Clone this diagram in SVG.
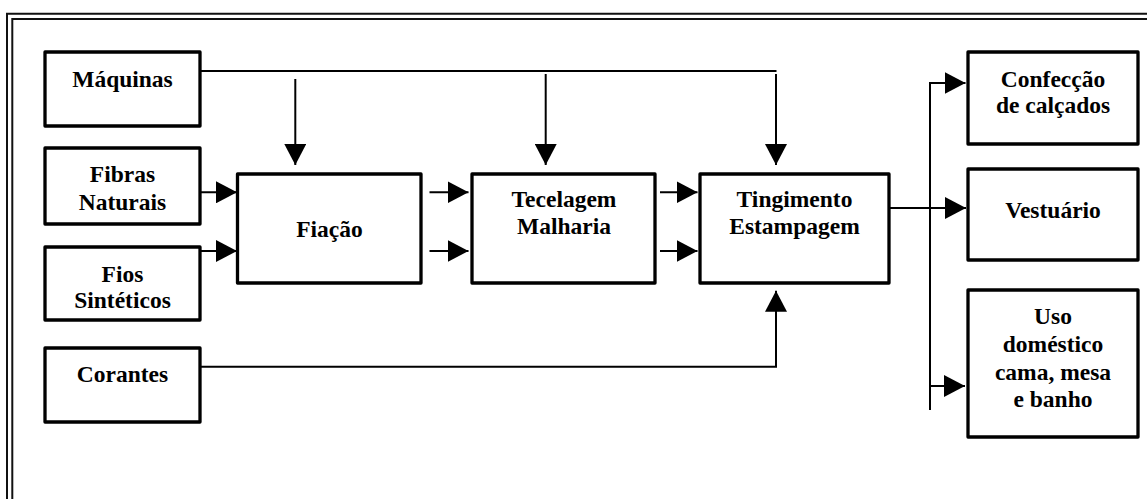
<svg xmlns="http://www.w3.org/2000/svg" width="1147" height="499" viewBox="0 0 1147 499">
  <style>
    .box { fill: #fff; stroke: #000; stroke-width: 3.3; stroke-linejoin: round; }
    .lbl { font-weight: bold; font-size: 23.5px; fill: #000; text-anchor: middle; }
    .wire { fill: none; stroke: #000; stroke-width: 2; }
    .frame { fill: none; stroke: #111; stroke-width: 2; }
  </style>
  <defs>
    <marker id="head" markerUnits="userSpaceOnUse" markerWidth="22" markerHeight="22" refX="21" refY="11" orient="auto">
      <path d="M0,0 L21,11 L0,22 Z" fill="#000"/>
    </marker>
  </defs>

  <rect width="1147" height="499" fill="#fff"/>

  <!-- double page border (top and left) -->
  <g id="border">
    <path class="frame" d="M7,499 V13.7 H1147"/>
    <path class="frame" d="M12.3,499 V19 H1147"/>
  </g>

  <!-- connectors -->
  <g id="connectors">
    <path class="wire" d="M200,71 H776.5"/>
    <path class="wire" d="M295.3,79 V165" marker-end="url(#head)"/>
    <path class="wire" d="M545.7,74 V165" marker-end="url(#head)"/>
    <path class="wire" d="M776,74 V165" marker-end="url(#head)"/>

    <path class="wire" d="M200,192.3 H237" marker-end="url(#head)"/>
    <path class="wire" d="M200,251 H237" marker-end="url(#head)"/>

    <path class="wire" d="M429.5,192.3 H468.5" marker-end="url(#head)"/>
    <path class="wire" d="M429.5,251 H468.5" marker-end="url(#head)"/>

    <path class="wire" d="M660,192.3 H697.5" marker-end="url(#head)"/>
    <path class="wire" d="M660,251 H697.5" marker-end="url(#head)"/>

    <path class="wire" d="M889,208 H966" marker-end="url(#head)"/>
    <path class="wire" d="M930,410 V83"/>
    <path class="wire" d="M929,83 H965.5" marker-end="url(#head)"/>
    <path class="wire" d="M930,386 H965" marker-end="url(#head)"/>

    <path class="wire" d="M200,366.7 H776 V290.7" marker-end="url(#head)"/>
  </g>

  <g id="nodes" font-family="Liberation Serif, Times New Roman, serif">
    <!-- inputs -->
    <g id="maquinas">
      <rect class="box" x="45" y="52" width="155" height="74"/>
      <text class="lbl" x="122.5" y="87.3">Máquinas</text>
    </g>
    <g id="fibras">
      <rect class="box" x="45" y="148" width="155" height="76"/>
      <text class="lbl" x="122.5" y="182.3">Fibras</text>
      <text class="lbl" x="122.5" y="210">Naturais</text>
    </g>
    <g id="fios">
      <rect class="box" x="45" y="247" width="155" height="73"/>
      <text class="lbl" x="122.5" y="281.7">Fios</text>
      <text class="lbl" x="122.5" y="308.3">Sintéticos</text>
    </g>
    <g id="corantes">
      <rect class="box" x="45" y="348" width="155" height="74"/>
      <text class="lbl" x="122.5" y="381.7">Corantes</text>
    </g>

    <!-- process stages -->
    <g id="fiacao">
      <rect class="box" x="237.5" y="174" width="183.5" height="109"/>
      <text class="lbl" x="329.5" y="237.3">Fiação</text>
    </g>
    <g id="tecelagem">
      <rect class="box" x="472" y="174" width="183" height="109"/>
      <text class="lbl" x="564" y="207.3">Tecelagem</text>
      <text class="lbl" x="564" y="234.3">Malharia</text>
    </g>
    <g id="tingimento">
      <rect class="box" x="700" y="174" width="189" height="109"/>
      <text class="lbl" x="794.5" y="207.3">Tingimento</text>
      <text class="lbl" x="794.5" y="234.3">Estampagem</text>
    </g>

    <!-- end uses -->
    <g id="confeccao">
      <rect class="box" x="968" y="52" width="170" height="92"/>
      <text class="lbl" x="1053" y="86.7">Confecção</text>
      <text class="lbl" x="1053" y="113.3">de calçados</text>
    </g>
    <g id="vestuario">
      <rect class="box" x="968" y="169" width="170" height="91"/>
      <text class="lbl" x="1053" y="218.3">Vestuário</text>
    </g>
    <g id="uso">
      <rect class="box" x="968" y="290" width="170" height="147"/>
      <text class="lbl" x="1053" y="324">Uso</text>
      <text class="lbl" x="1053" y="351.7">doméstico</text>
      <text class="lbl" x="1053" y="380">cama, mesa</text>
      <text class="lbl" x="1053" y="406.7">e banho</text>
    </g>
  </g>
</svg>
